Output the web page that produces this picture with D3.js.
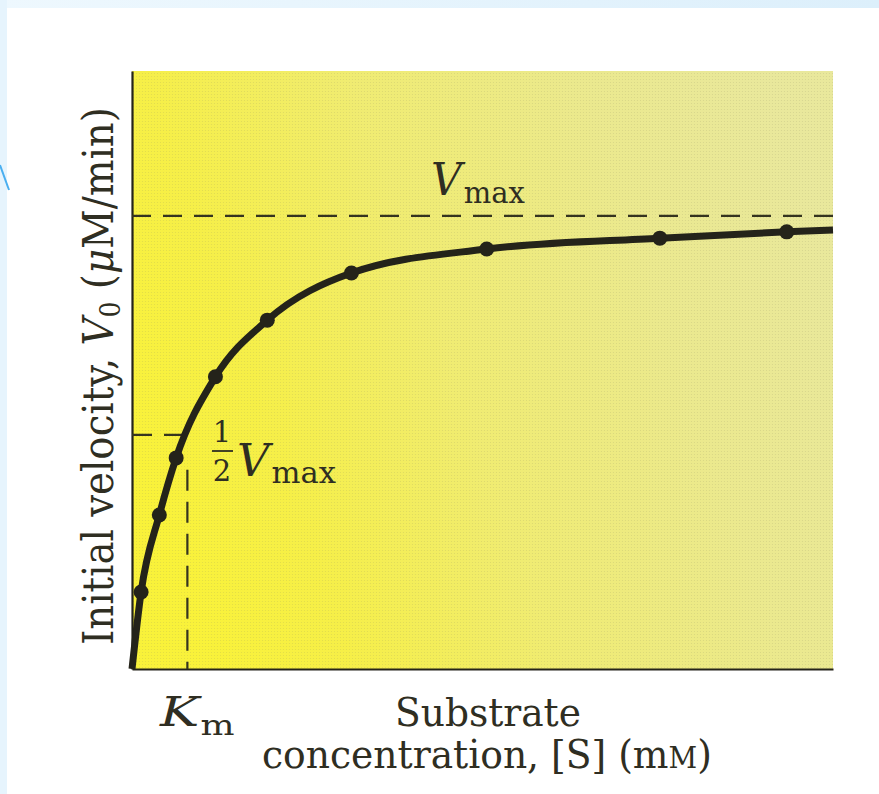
<!DOCTYPE html>
<html>
<head>
<meta charset="utf-8">
<script src="https://cdn.jsdelivr.net/npm/d3@7/dist/d3.min.js"></script>
<style>
  html, body { margin: 0; padding: 0; background: #ffffff; }
  svg { display: block; }
</style>
</head>
<body>
<svg id="chart" width="879" height="794"></svg>
<script>
// ---------------- data (arbitrary units) ----------------
// substrate concentration [S] (x units) and initial velocity V0 (y units, Vmax = 100)
const pointS = [0.13, 0.39, 0.63, 1.19, 1.93, 3.13, 5.06, 7.53, 9.34];
const pointV = [17.0, 34.0, 46.6, 64.5, 77.0, 87.4, 92.7, 95.1, 96.5];
// the fitted curve runs through the origin, the points, and on to the right edge
const curveS = [0, 0.13, 0.39, 0.63, 1.19, 1.93, 3.13, 5.06, 7.53, 9.34, 10];
const curveV = [0, 17.0, 34.0, 46.6, 64.5, 77.0, 87.4, 92.7, 95.1, 96.5, 96.9];
const vmax = 100;          // V max dashed line
const halfVmaxLine = 51.7; // ½ V max dashed line as drawn
const km = 0.79;           // K m
const kmLineTop = 44;      // top of the K m dashed drop line
const halfLineEnd = 0.72;  // where the ½ Vmax dashed line meets the curve
const xDomain = [0, 10];
const yDomain = [0, 132];

// ---------------- layout ----------------
const svg = d3.select("#chart");
const W = 879, H = 794;
const plot = { left: 132, right: 833, top: 71, bottom: 669 };

const x = d3.scaleLinear().domain(xDomain).range([plot.left, plot.right]);
const y = d3.scaleLinear().domain(yDomain).range([plot.bottom, plot.top]);

const defs = svg.append("defs");

// slide frame (light blue strips)
const topGrad = defs.append("linearGradient").attr("id", "topGrad");
topGrad.append("stop").attr("offset", "0").attr("stop-color", "#eef8fe");
topGrad.append("stop").attr("offset", "1").attr("stop-color", "#dceffb");
svg.append("rect").attr("x", 0).attr("y", 0).attr("width", W).attr("height", 8).attr("fill", "url(#topGrad)");
svg.append("rect").attr("x", 0).attr("y", 0).attr("width", 7).attr("height", H).attr("fill", "#e6f4fd");
svg.append("line").attr("x1", 0).attr("y1", 165).attr("x2", 9).attr("y2", 190)
  .attr("stroke", "#4aaff0").attr("stroke-width", 2);

// plot background gradient
const bg = defs.append("linearGradient").attr("id", "bgGrad")
  .attr("x1", "0").attr("y1", "0.6").attr("x2", "1").attr("y2", "0.3");
[["0", "#f9f23a"], ["0.18", "#f6ef48"], ["0.45", "#f0ec72"], ["0.75", "#ebe98e"], ["1", "#e9e89c"]]
  .forEach(([o, c]) => bg.append("stop").attr("offset", o).attr("stop-color", c));

const pat = defs.append("pattern").attr("id", "dots").attr("width", 3).attr("height", 3)
  .attr("patternUnits", "userSpaceOnUse");
pat.append("circle").attr("cx", 1.5).attr("cy", 1.5).attr("r", 0.6).attr("fill", "#8a8a60").attr("opacity", 0.35);

svg.append("rect")
  .attr("x", x(xDomain[0])).attr("y", y(yDomain[1]))
  .attr("width", x(xDomain[1]) - x(xDomain[0])).attr("height", y(yDomain[0]) - y(yDomain[1]))
  .attr("fill", "url(#bgGrad)");
svg.append("rect")
  .attr("x", x(xDomain[0])).attr("y", y(yDomain[1]))
  .attr("width", x(xDomain[1]) - x(xDomain[0])).attr("height", y(yDomain[0]) - y(yDomain[1]))
  .attr("fill", "url(#dots)").attr("opacity", 0.6);

const ink = "#24231a";
const dashInk = "#35341f";

// axes (domain lines only)
const yAxis = svg.append("g").attr("transform", `translate(${plot.left},0)`)
  .call(d3.axisLeft(y).ticks(0).tickSize(0).tickSizeOuter(0));
const xAxis = svg.append("g").attr("transform", `translate(0,${plot.bottom})`)
  .call(d3.axisBottom(x).ticks(0).tickSize(0).tickSizeOuter(0));
[yAxis, xAxis].forEach(g => {
  g.selectAll("text").remove();
  g.select(".domain").attr("stroke", ink).attr("stroke-width", 2.2);
});

// dashed guide lines
svg.append("line")
  .attr("x1", x(0)).attr("x2", x(xDomain[1])).attr("y1", y(vmax)).attr("y2", y(vmax))
  .attr("stroke", dashInk).attr("stroke-width", 2.2).attr("stroke-dasharray", "19,12");
svg.append("line")
  .attr("x1", x(0)).attr("x2", x(halfLineEnd)).attr("y1", y(halfVmaxLine)).attr("y2", y(halfVmaxLine))
  .attr("stroke", dashInk).attr("stroke-width", 2.2).attr("stroke-dasharray", "20,12");
svg.append("line")
  .attr("x1", x(km)).attr("x2", x(km)).attr("y1", y(kmLineTop)).attr("y2", y(0))
  .attr("stroke", dashInk).attr("stroke-width", 2.2).attr("stroke-dasharray", "21,11");

// curve
const curveData = curveS.map((s, i) => [s, curveV[i]]);
svg.append("path")
  .datum(curveData)
  .attr("d", d3.line().x(d => x(d[0])).y(d => y(d[1])).curve(d3.curveMonotoneX))
  .attr("fill", "none").attr("stroke", ink).attr("stroke-width", 7)
  .attr("stroke-linecap", "butt").attr("stroke-linejoin", "round");

// points
svg.append("g").selectAll("circle")
  .data(pointS.map((s, i) => [s, pointV[i]]))
  .join("circle")
  .attr("cx", d => x(d[0])).attr("cy", d => y(d[1])).attr("r", 7.5)
  .attr("fill", ink);

// ---------------- text ----------------
const serif = "'DejaVu Serif', 'Liberation Serif', serif";
const txtInk = "#2f2e22";

function fitWidth(textSel, target) {
  const w = textSel.node().getBBox().width;
  const sx = target / w;
  const ax = +textSel.attr("x") || 0;
  textSel.attr("transform", `translate(${ax},0) scale(${sx},1) translate(${-ax},0)`);
}

// Vmax label (top)
const vmaxLbl = svg.append("text").attr("x", 431).attr("y", 195)
  .attr("font-family", serif).attr("fill", txtInk);
vmaxLbl.append("tspan").attr("font-style", "italic").attr("font-size", 44).text("V");
vmaxLbl.append("tspan").attr("font-size", 30).attr("dy", 8).attr("dx", 2).text("max");
fitWidth(vmaxLbl, 94);

// ½ Vmax label
svg.append("text").attr("x", 222).attr("y", 442).attr("text-anchor", "middle")
  .attr("font-family", serif).attr("font-size", 29).attr("fill", txtInk).text("1");
svg.append("line").attr("x1", 212).attr("x2", 233).attr("y1", 451).attr("y2", 451)
  .attr("stroke", txtInk).attr("stroke-width", 1.8);
svg.append("text").attr("x", 222).attr("y", 481).attr("text-anchor", "middle")
  .attr("font-family", serif).attr("font-size", 29).attr("fill", txtInk).text("2");
const halfLbl = svg.append("text").attr("x", 237).attr("y", 476)
  .attr("font-family", serif).attr("fill", txtInk);
halfLbl.append("tspan").attr("font-style", "italic").attr("font-size", 44).text("V");
halfLbl.append("tspan").attr("font-size", 30).attr("dy", 7).attr("dx", 2).text("max");
fitWidth(halfLbl, 99);

// Km label
const kmLbl = svg.append("text").attr("x", 160).attr("y", 726)
  .attr("font-family", serif).attr("fill", txtInk);
kmLbl.append("tspan").attr("font-style", "italic").attr("font-size", 41).text("K");
kmLbl.append("tspan").attr("font-size", 28).attr("dy", 9).attr("dx", 1).text("m");
fitWidth(kmLbl, 76);

// x axis title
const xt1 = svg.append("text").attr("x", 395).attr("y", 726)
  .attr("font-family", serif).attr("font-size", 39).attr("fill", txtInk).text("Substrate");
fitWidth(xt1, 186);
const xt2 = svg.append("text").attr("x", 262).attr("y", 768)
  .attr("font-family", serif).attr("font-size", 39).attr("fill", txtInk);
xt2.append("tspan").text("concentration, [S] (m");
xt2.append("tspan").attr("font-size", 29).text("M");
xt2.append("tspan").text(")");
fitWidth(xt2, 450);

// y axis title (rotated)
const yg = svg.append("g").attr("transform", "translate(113,645) rotate(-90)");
const yt = yg.append("text").attr("x", 0).attr("y", 0)
  .attr("font-family", serif).attr("font-size", 43).attr("fill", txtInk);
yt.append("tspan").text("Initial velocity, ");
yt.append("tspan").attr("font-style", "italic").text("V");
yt.append("tspan").attr("font-size", 28).attr("dy", 7).text("0");
yt.append("tspan").attr("dy", -7).text(" (");
yt.append("tspan").attr("font-style", "italic").text("μ");
yt.append("tspan").text("M/min)");
fitWidth(yt, 538);
</script>
</body>
</html>
